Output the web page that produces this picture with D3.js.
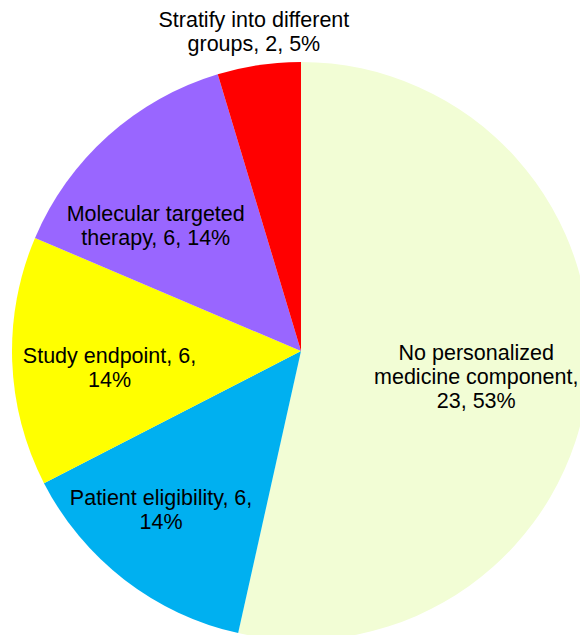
<!DOCTYPE html>
<html>
<head>
<meta charset="utf-8">
<script src="https://cdn.jsdelivr.net/npm/d3@7"></script>
<style>
  body { margin: 0; background: #fff; }
  text { font-family: "Liberation Sans", Arial, sans-serif; font-size: 21.5px; fill: #000; }
</style>
</head>
<body>
<svg id="chart" width="580" height="635"></svg>
<script>
// slices, clockwise from 12 o'clock
var categories = ["No personalized medicine component", "Patient eligibility", "Study endpoint",
                  "Molecular targeted therapy", "Stratify into different groups"];
var counts  = [23, 6, 6, 6, 2];
var percents = ["53%", "14%", "14%", "14%", "5%"];
// how the label text wraps, as in the original
var labelLines = [
  ["No personalized", "medicine component,", "23, 53%"],
  ["Patient eligibility, 6,", "14%"],
  ["Study endpoint, 6,", "14%"],
  ["Molecular targeted", "therapy, 6, 14%"],
  ["Stratify into different", "groups, 2, 5%"]
];
var colors = ["#F2FDD5", "#00B0F0", "#FFFF00", "#9966FF", "#FF0000"];

var cx = 301, cy = 351, R = 289;
// label spot: fraction of the radius along the slice middle, then a small nudge
var labelR = [0.61, 0.73, 0.67, 0.66, 1.12];
var labelNudge = [[0, 7], [-11, -8], [2, 10], [-18, 17], [0, 1]];
var lineH = 24;

var svg = d3.select("#chart");
var g = svg.append("g").attr("transform", "translate(" + cx + "," + cy + ")");

var pie = d3.pie().sort(null).value(function(d) { return d; });
var arcs = pie(counts);
var arc = d3.arc().innerRadius(0).outerRadius(R);

g.selectAll("path.slice")
  .data(arcs)
  .enter().append("path")
  .attr("class", "slice")
  .attr("d", arc)
  .attr("fill", function(d, i) { return colors[i]; });

var labels = g.selectAll("text.lbl")
  .data(arcs)
  .enter().append("text")
  .attr("class", "lbl")
  .attr("text-anchor", "middle")
  .attr("transform", function(d, i) {
    var r = R * labelR[i];
    var c = d3.arc().innerRadius(r).outerRadius(r).centroid(d);
    return "translate(" + (c[0] + labelNudge[i][0]) + "," + (c[1] + labelNudge[i][1]) + ")";
  });

labels.each(function(d, i) {
  var lines = labelLines[i];
  var y0 = -(lines.length - 1) * lineH / 2 + 7;
  d3.select(this).selectAll("tspan")
    .data(lines)
    .enter().append("tspan")
    .attr("x", 0)
    .attr("y", function(t, j) { return y0 + j * lineH; })
    .text(function(t) { return t; });
});
</script>
</body>
</html>
